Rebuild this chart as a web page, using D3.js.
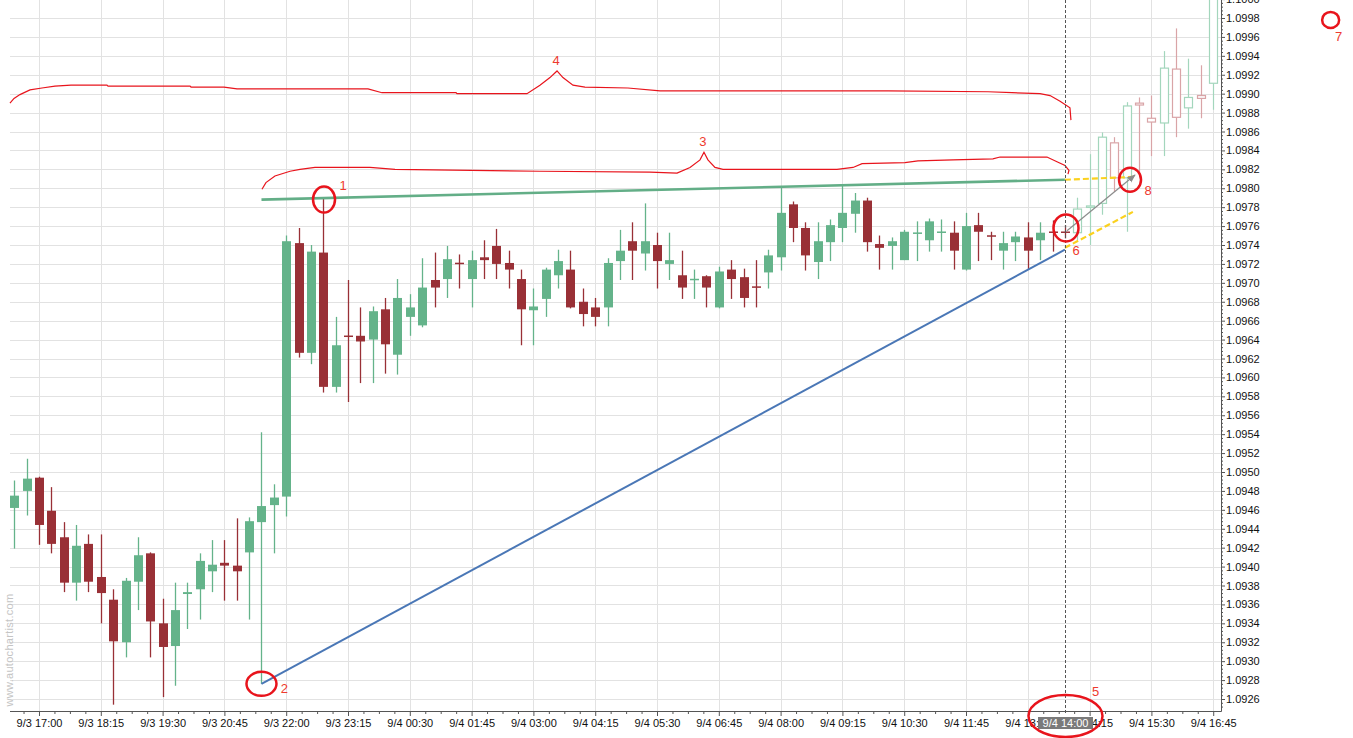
<!DOCTYPE html>
<html><head><meta charset="utf-8">
<script src="https://cdn.jsdelivr.net/npm/d3@7"></script>
<style>
html,body{margin:0;padding:0;background:#fff;}
svg{display:block;}
text{font-family:"Liberation Sans",Arial,sans-serif;}
</style></head><body>
<svg id="chart" width="1353" height="738"></svg>
<script>
// ---------- DATA ----------
const startTime = Date.UTC(2015, 8, 3, 16, 30); // first bar 9/3 16:30
const barMinutes = 15;
const lastSolidBar = 85; // bars after this are the "projected" hollow bars

const openP  = [1.09462,1.09480,1.09494,1.09459,1.09431,1.09383,1.09424,1.09389,1.09365,1.09320,
                1.09384,1.09414,1.09340,1.09316,1.09371,1.09376,1.09395,1.09404,1.09401,1.09415,
                1.09447,1.09465,1.09474,1.09742,1.09626,1.09732,1.09590,1.09644,1.09644,1.09640,
                1.09672,1.09624,1.09664,1.09655,1.09703,1.09704,1.09721,1.09704,1.09727,1.09739,
                1.09721,1.09704,1.09671,1.09683,1.09708,1.09714,1.09680,1.09674,1.09674,1.09723,
                1.09744,1.09731,1.09740,1.09720,1.09708,1.09703,1.09707,1.09674,1.09714,1.09706,
                1.09696,1.09711,1.09727,1.09783,1.09758,1.09722,1.09743,1.09758,1.09773,1.09787,
                1.09741,1.09739,1.09724,1.09752,1.09745,1.09753,1.09753,1.09714,1.09761,1.09750,
                1.09734,1.09743,1.09748,1.09745,1.09754,1.09754,1.09753,1.09780,1.09784,1.09848,
                1.09811,1.09890,1.09874,1.09869,1.09926,1.09885,1.09898,1.09911];
const highP  = [1.09491,1.09514,1.09495,1.09484,1.09447,1.09444,1.09434,1.09434,1.09376,1.09388,
                1.09431,1.09415,1.09366,1.09383,1.09383,1.09414,1.09428,1.09428,1.09451,1.09452,
                1.09542,1.09487,1.09750,1.09758,1.09740,1.09789,1.09664,1.09703,1.09674,1.09675,
                1.09684,1.09704,1.09688,1.09726,1.09732,1.09739,1.09730,1.09734,1.09745,1.09757,
                1.09734,1.09714,1.09694,1.09716,1.09735,1.09734,1.09694,1.09684,1.09726,1.09756,
                1.09764,1.09784,1.09753,1.09753,1.09734,1.09714,1.09708,1.09717,1.09724,1.09715,
                1.09724,1.09735,1.09801,1.09786,1.09764,1.09764,1.09767,1.09803,1.09795,1.09790,
                1.09750,1.09748,1.09756,1.09765,1.09768,1.09767,1.09765,1.09774,1.09774,1.09754,
                1.09754,1.09754,1.09764,1.09764,1.09766,1.09761,1.09790,1.09836,1.09859,1.09854,
                1.09891,1.09896,1.09898,1.09945,1.09969,1.09937,1.09930,1.10025];
const lowP   = [1.09419,1.09454,1.09423,1.09414,1.09373,1.09364,1.09373,1.09340,1.09254,1.09304,
                1.09354,1.09304,1.09262,1.09274,1.09334,1.09344,1.09373,1.09364,1.09364,1.09344,
                1.09276,1.09414,1.09453,1.09621,1.09614,1.09584,1.09584,1.09574,1.09594,1.09594,
                1.09604,1.09603,1.09644,1.09653,1.09674,1.09684,1.09694,1.09674,1.09704,1.09704,
                1.09694,1.09634,1.09634,1.09664,1.09694,1.09673,1.09654,1.09654,1.09654,1.09703,
                1.09703,1.09713,1.09694,1.09703,1.09683,1.09683,1.09674,1.09673,1.09683,1.09674,
                1.09674,1.09694,1.09713,1.09743,1.09713,1.09704,1.09723,1.09743,1.09753,1.09733,
                1.09714,1.09714,1.09724,1.09723,1.09733,1.09733,1.09714,1.09713,1.09723,1.09724,
                1.09714,1.09723,1.09714,1.09724,1.09733,1.09747,1.09745,1.09740,1.09772,1.09796,
                1.09754,1.09816,1.09834,1.09834,1.09854,1.09863,1.09874,1.09883];
const closeP = [1.09475,1.09493,1.09444,1.09424,1.09383,1.09422,1.09384,1.09372,1.09321,1.09385,
                1.09412,1.09342,1.09315,1.09354,1.09373,1.09406,1.09402,1.09401,1.09395,1.09448,
                1.09464,1.09473,1.09744,1.09626,1.09733,1.09590,1.09634,1.09643,1.09638,1.09670,
                1.09635,1.09684,1.09674,1.09695,1.09695,1.09725,1.09720,1.09724,1.09724,1.09720,
                1.09714,1.09672,1.09675,1.09714,1.09723,1.09674,1.09667,1.09664,1.09721,1.09734,
                1.09734,1.09744,1.09723,1.09724,1.09695,1.09704,1.09695,1.09712,1.09704,1.09684,
                1.09695,1.09729,1.09774,1.09758,1.09729,1.09744,1.09761,1.09774,1.09787,1.09743,
                1.09737,1.09744,1.09754,1.09753,1.09765,1.09754,1.09734,1.09760,1.09754,1.09749,
                1.09742,1.09749,1.09734,1.09753,1.09753,1.09753,1.09778,1.09781,1.09854,1.09811,
                1.09887,1.09888,1.09870,1.09927,1.09875,1.09896,1.09895,1.10015];

const xTickLabels = ["9/3 17:00","9/3 18:15","9/3 19:30","9/3 20:45","9/3 22:00","9/3 23:15",
                     "9/4 00:30","9/4 01:45","9/4 03:00","9/4 04:15","9/4 05:30","9/4 06:45",
                     "9/4 08:00","9/4 09:15","9/4 10:30","9/4 11:45","9/4 13:00","9/4 14:15",
                     "9/4 15:30","9/4 16:45"];
const yTickLabels = ["1.0926","1.0928","1.0930","1.0932","1.0934","1.0936","1.0938","1.0940",
                     "1.0942","1.0944","1.0946","1.0948","1.0950","1.0952","1.0954","1.0956",
                     "1.0958","1.0960","1.0962","1.0964","1.0966","1.0968","1.0970","1.0972",
                     "1.0974","1.0976","1.0978","1.0980","1.0982","1.0984","1.0986","1.0988",
                     "1.0990","1.0992","1.0994","1.0996","1.0998","1.1000"];
const crosshairLabel = "9/4 14:00";
const crosshairBar = 85;

// pattern lines: [barIndex, price]
const resistanceLine = [[20, 1.09788], [85, 1.09809]];
const supportLine    = [[20, 1.09276], [85, 1.09735]];
const projUpper      = [[85, 1.09809], [90.6, 1.09812]];
const projLower      = [[85, 1.09737], [90.5, 1.09775]];
const projArrow      = [[85.17, 1.09755], [90.67, 1.09814]];
const brace3 = [[20.04,1.09799],[20.36,1.09806],[21.09,1.09813],[22.31,1.09818],[23.12,1.09820],
  [24.33,1.09822],[28.78,1.09822],[30.8,1.09820],[42.53,1.09818],[51.43,1.09817],[53.62,1.09816],
  [54.67,1.09822],[55.48,1.09830],[55.8,1.09838],[56.12,1.09830],[56.69,1.09822],[57.34,1.09820],
  [66.56,1.09820],[67.86,1.09822],[68.59,1.09826],[72.06,1.09827],[73.11,1.09829],[75.95,1.09830],
  [79.18,1.09831],[79.75,1.09833],[83.55,1.09833],[84.36,1.09828],[85.01,1.09824],[85.33,1.09819],
  [85.25,1.09815]];
const brace4 = [[-0.35,1.09890],[-0.02,1.09895],[0.46,1.09899],[1.27,1.09904],[2.24,1.09906],
  [3.29,1.09908],[4.59,1.09909],[7.5,1.09909],[7.58,1.09908],[14.22,1.09908],[14.3,1.09907],
  [16.97,1.09907],[18.02,1.09905],[28.62,1.09905],[29.75,1.09901],[35.74,1.09901],[35.82,1.09900],
  [41.48,1.09900],[42.53,1.09909],[43.34,1.09917],[43.91,1.09924],[44.39,1.09917],[45.2,1.09909],
  [46.17,1.09907],[49.65,1.09906],[52.24,1.09903],[70.69,1.09903],[78.78,1.09902],[80.72,1.09901],
  [82.99,1.09900],[83.8,1.09898],[84.61,1.09892],[85.41,1.09885],[85.49,1.09872]];
// marked points: [barIndex, price]
const markerNames  = ["1","2","6","8","7"];
const markerPoints = [[25.06,1.09788],[20,1.09276],[85.09,1.09758],[90.27,1.09809],[106.5,1.09978]];
const braceNames   = ["3","4"];
const bracePeaks   = [[55.8,1.09838],[43.91,1.09924]];

// ---------- STYLE / LAYOUT ----------
const W = 1353, H = 738;
const plot = {left: 10, right: 1221, top: 0, bottom: 711};
const C = {
  green: "#64b38a", red: "#993036",
  greenHollow: "#a3d6bc", redHollow: "#d9a4a7",
  grid: "#e2e2e2", axis: "#555", text: "#111",
  res: "#63ae87", sup: "#4a77b6", proj: "#fbd11e", arrow: "#8c8c8c",
  mark: "#e8141c", markText: "#ee3a2e"
};
const markerStyle = [ // rx, ry, label dx, dy
  [11,13,19,-10],[15,12,23,9],[12.5,13.5,10,27],[11,12,18,15],[8.5,8,8,21]
];

// ---------- SCALES ----------
const barMs = barMinutes * 60000;
const toTime = idx => new Date(startTime + idx * barMs);
const xScale = d3.scaleUtc()
  .domain([toTime(-0.346), toTime(97.63)])
  .range([plot.left, plot.right]);
const yScale = d3.scaleLinear().domain([1.0926, 1.0998]).range([699, 18]);
const X = idx => xScale(toTime(idx));
const parseLbl = s => { const [md, hm] = s.split(" "); const [m, d] = md.split("/").map(Number);
  const [h, mi] = hm.split(":").map(Number); return new Date(Date.UTC(2015, m - 1, d, h, mi)); };
const xTicks = xTickLabels.map(parseLbl);
const yTicks = yTickLabels.map(Number);

const svg = d3.select("#chart");
svg.append("rect").attr("width", W).attr("height", H).attr("fill", "#fff");

// grid
const grid = svg.append("g");
grid.selectAll(".hg").data(yTicks).enter().append("line")
  .attr("x1", plot.left).attr("x2", plot.right)
  .attr("y1", d => Math.round(yScale(d)) + 0.5).attr("y2", d => Math.round(yScale(d)) + 0.5)
  .attr("stroke", C.grid);
grid.selectAll(".vg").data(xTicks).enter().append("line")
  .attr("x1", d => Math.round(xScale(d)) + 0.5).attr("x2", d => Math.round(xScale(d)) + 0.5)
  .attr("y1", plot.top).attr("y2", plot.bottom).attr("stroke", C.grid);

// watermark
svg.append("text").attr("transform", `translate(13,650) rotate(-90)`)
  .attr("text-anchor", "middle").attr("font-size", 11).attr("fill", "#c4c4c4")
  .attr("letter-spacing", 0.3).text("www.autochartist.com");

// axes
const minorX = [];
for (let k = -1; k < xTicks.length; k++) for (let j = 1; j < 4; j++) {
  const t = new Date(xTicks[0].getTime() + (k * 4 + j) * 75 / 4 * 60000);
  if (xScale(t) > plot.left && xScale(t) < plot.right) minorX.push(t);
}
const gx = svg.append("g").attr("transform", `translate(0,${plot.bottom})`);
gx.call(d3.axisBottom(xScale).tickValues(xTicks).tickFormat(d3.utcFormat("%-m/%-d %H:%M"))
  .tickSize(5).tickSizeOuter(0).tickPadding(3));
const gxm = svg.append("g").attr("transform", `translate(0,${plot.bottom})`);
gxm.call(d3.axisBottom(xScale).tickValues(minorX).tickFormat("").tickSize(3).tickSizeOuter(0));
gxm.select(".domain").remove();

const minorY = [];
for (let i = 0; i < yTicks.length; i++) for (let j = 1; j < 5; j++) {
  const v = yTicks[i] + j * 0.00004;
  if (yScale(v) > plot.top && yScale(v) < plot.bottom) minorY.push(v);
}
minorY.push(1.0926 - 0.00004, 1.0926 - 0.00008);
const gy = svg.append("g").attr("transform", `translate(${plot.right},0)`);
gy.call(d3.axisRight(yScale).tickValues(yTicks).tickFormat(d3.format(".4f"))
  .tickSize(4).tickSizeOuter(0).tickPadding(1));
const gym = svg.append("g").attr("transform", `translate(${plot.right},0)`);
gym.call(d3.axisRight(yScale).tickValues(minorY).tickFormat("").tickSize(2).tickSizeOuter(0));
gym.select(".domain").remove();
gy.select(".domain").remove();
gx.select(".domain").remove();
svg.append("line").attr("x1", plot.left).attr("x2", plot.right + 0.5)
  .attr("y1", plot.bottom + 0.5).attr("y2", plot.bottom + 0.5).attr("stroke", C.axis);
svg.append("line").attr("x1", plot.right + 0.5).attr("x2", plot.right + 0.5)
  .attr("y1", plot.top).attr("y2", plot.bottom + 0.5).attr("stroke", C.axis);
[gx, gxm, gy, gym].forEach(g => {
  g.selectAll("line").attr("stroke", C.axis);
  g.selectAll("text").attr("font-size", 11).attr("fill", C.text)
    .attr("font-family", "'Liberation Sans', Arial, sans-serif");
});

// clip
svg.append("clipPath").attr("id", "clip").append("rect")
  .attr("x", plot.left).attr("y", plot.top)
  .attr("width", plot.right - plot.left).attr("height", plot.bottom - plot.top);
const g = svg.append("g").attr("clip-path", "url(#clip)");

// candles
const bodyW = 9;
openP.forEach((o, i) => {
  const c = closeP[i], h = highP[i], l = lowP[i];
  const up = c >= o;
  const hollow = i > lastSolidBar;
  const col = hollow ? (up ? C.greenHollow : C.redHollow) : (up ? C.green : C.red);
  const cx = Math.round(X(i));
  const yTop = yScale(Math.max(o, c)), yBot = yScale(Math.min(o, c));
  const bh = Math.max(1.5, yBot - yTop);
  const yt = (bh === 1.5) ? (yTop + yBot) / 2 - 0.75 : yTop;
  if (!hollow) {
    g.append("line").attr("x1", cx + 0.5).attr("x2", cx + 0.5)
      .attr("y1", yScale(h)).attr("y2", yScale(l)).attr("stroke", col).attr("stroke-width", 1.3);
    g.append("rect").attr("x", cx + 0.5 - bodyW / 2).attr("y", yt)
      .attr("width", bodyW).attr("height", bh).attr("fill", col);
  } else {
    g.append("line").attr("x1", cx + 0.5).attr("x2", cx + 0.5)
      .attr("y1", yScale(h)).attr("y2", yt).attr("stroke", col).attr("stroke-width", 1.2);
    g.append("line").attr("x1", cx + 0.5).attr("x2", cx + 0.5)
      .attr("y1", yt + bh).attr("y2", yScale(l)).attr("stroke", col).attr("stroke-width", 1.2);
    g.append("rect").attr("x", cx + 0.5 - bodyW / 2 + 0.5).attr("y", yt)
      .attr("width", bodyW - 1).attr("height", bh).attr("fill", "#fff")
      .attr("stroke", col).attr("stroke-width", 1.2);
  }
});

// pattern lines
const line = d3.line().x(d => X(d[0])).y(d => yScale(d[1]));
g.append("path").attr("d", line(resistanceLine)).attr("stroke", C.res)
  .attr("stroke-width", 2.6).attr("fill", "none");
g.append("path").attr("d", line(supportLine)).attr("stroke", C.sup)
  .attr("stroke-width", 2).attr("fill", "none");
g.append("path").attr("d", line(projUpper)).attr("stroke", C.proj)
  .attr("stroke-width", 2.2).attr("stroke-dasharray", "6,3").attr("fill", "none");
g.append("path").attr("d", line(projLower)).attr("stroke", C.proj)
  .attr("stroke-width", 2.2).attr("stroke-dasharray", "6,3").attr("fill", "none");

svg.append("defs").append("marker").attr("id", "arrowhead")
  .attr("viewBox", "0 0 10 10").attr("refX", 9).attr("refY", 5)
  .attr("markerWidth", 7).attr("markerHeight", 7).attr("orient", "auto")
  .append("path").attr("d", "M0,1 L10,5 L0,9 z").attr("fill", C.arrow);
g.append("path").attr("d", line(projArrow)).attr("stroke", C.arrow)
  .attr("stroke-width", 1.2).attr("fill", "none").attr("marker-end", "url(#arrowhead)");

// braces
[brace3, brace4].forEach(b => {
  svg.append("path").attr("d", line(b)).attr("stroke", C.mark)
    .attr("stroke-width", 1.2).attr("fill", "none");
});
braceNames.forEach((n, i) => {
  svg.append("text").attr("x", X(bracePeaks[i][0]) - 1).attr("y", yScale(bracePeaks[i][1]) - 6)
    .attr("text-anchor", "middle").attr("font-size", 13).attr("fill", C.markText)
    .attr("font-family", "'DejaVu Sans', sans-serif").text(n);
});

// crosshair
svg.append("line").attr("x1", Math.round(X(crosshairBar)) + 0.5).attr("x2", Math.round(X(crosshairBar)) + 0.5)
  .attr("y1", plot.top).attr("y2", plot.bottom + 4).attr("stroke", "#555")
  .attr("stroke-width", 1).attr("stroke-dasharray", "3,2");
const chx = Math.round(X(crosshairBar)) + 0.5;
svg.append("rect").attr("x", chx - 27.5).attr("y", plot.bottom + 6)
  .attr("width", 55).attr("height", 12).attr("fill", "#7a7a7a");
svg.append("text").attr("x", chx).attr("y", plot.bottom + 16).attr("text-anchor", "middle")
  .attr("font-size", 11).attr("fill", "#fff").text(crosshairLabel);

// marker circles
markerNames.forEach((n, i) => {
  const [idx, p] = markerPoints[i];
  const [rx, ry, dx, dy] = markerStyle[i];
  const cx = X(idx), cy = yScale(p);
  svg.append("ellipse").attr("cx", cx).attr("cy", cy).attr("rx", rx).attr("ry", ry)
    .attr("fill", "none").attr("stroke", C.mark).attr("stroke-width", 2.5);
  svg.append("text").attr("x", cx + dx).attr("y", cy + dy).attr("text-anchor", "middle")
    .attr("font-size", 13).attr("fill", C.markText)
    .attr("font-family", "'DejaVu Sans', sans-serif").text(n);
});
// ellipse 5 around the crosshair time label
svg.append("ellipse").attr("cx", chx).attr("cy", plot.bottom + 5).attr("rx", 37).attr("ry", 21)
  .attr("fill", "none").attr("stroke", C.mark).attr("stroke-width", 2.5);
svg.append("text").attr("x", chx + 30).attr("y", plot.bottom - 15).attr("text-anchor", "middle")
  .attr("font-size", 13).attr("fill", C.markText)
  .attr("font-family", "'DejaVu Sans', sans-serif").text("5");
</script>
</body></html>
